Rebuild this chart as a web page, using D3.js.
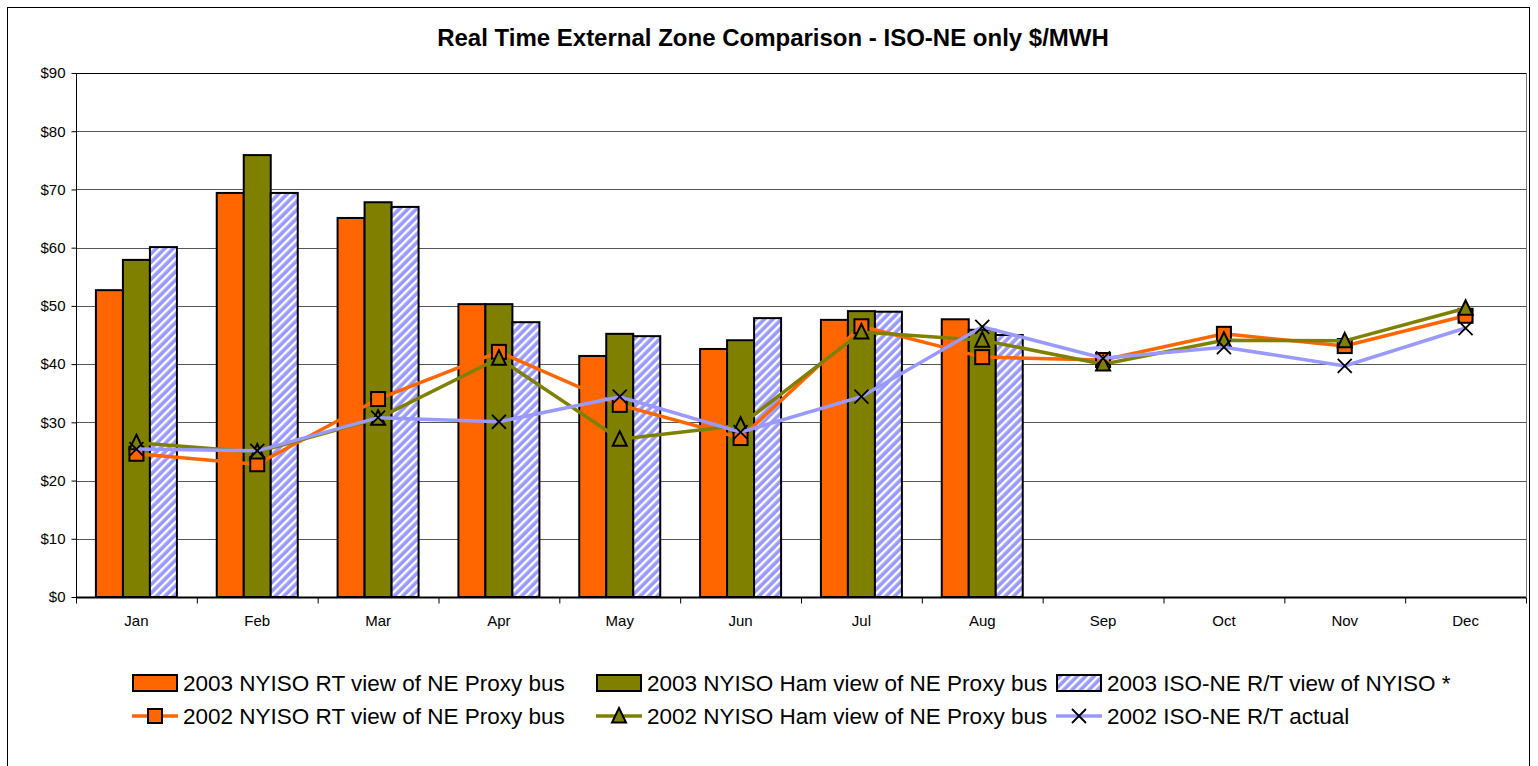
<!DOCTYPE html>
<html>
<head>
<meta charset="utf-8">
<script src="https://cdn.jsdelivr.net/npm/d3@7"></script>
<style>
  body { margin: 0; background: #fff; }
  text { font-family: "Liberation Sans", Arial, sans-serif; }
</style>
</head>
<body>
<svg id="chart" width="1538" height="766"></svg>
<script>
// months on the category axis
var months = ["Jan", "Feb", "Mar", "Apr", "May", "Jun", "Jul", "Aug", "Sep", "Oct", "Nov", "Dec"];
var yTicks = [0, 10, 20, 30, 40, 50, 60, 70, 80, 90];

// 2003 bars (only Jan-Aug)
var rt2003 = [52.7, 69.4, 65.1, 50.3, 41.4, 42.6, 47.6, 47.7];
var ham2003 = [57.9, 75.9, 67.8, 50.3, 45.2, 44.1, 49.1, 45.9];
var isone2003 = [60.1, 69.4, 67.0, 47.2, 44.8, 47.9, 49.0, 45.0];

// 2002 lines
var rt2002 = [24.6, 22.8, 34.0, 42.1, 33.0, 27.3, 46.5, 41.2, 40.7, 45.2, 43.1, 48.3];
var ham2002 = [26.5, 24.9, 30.7, 41.0, 27.1, 29.5, 45.5, 44.1, 40.0, 44.1, 44.0, 49.6];
var isone2002 = [25.4, 25.1, 30.8, 30.1, 34.4, 28.3, 34.4, 46.4, 41.0, 42.9, 39.7, 46.2];

var barNames = ["2003 NYISO RT view of NE Proxy bus", "2003 NYISO Ham view of NE Proxy bus", "2003 ISO-NE R/T view of NYISO *"];
var lineNames = ["2002 NYISO RT view of NE Proxy bus", "2002 NYISO Ham view of NE Proxy bus", "2002 ISO-NE R/T actual"];

var orange = "#ff6600", olive = "#808000", lav = "#9999ff";

var svg = d3.select("#chart");

// hatch for the ISO-NE bars
var defs = svg.append("defs");
var pat = defs.append("pattern").attr("id", "hatch")
  .attr("patternUnits", "userSpaceOnUse")
  .attr("width", 6).attr("height", 6)
  .attr("patternTransform", "rotate(45)");
pat.append("rect").attr("width", 6).attr("height", 6).attr("fill", lav);
pat.append("rect").attr("width", 2.4).attr("height", 6).attr("fill", "#fff");

// outer frame
svg.append("rect").attr("x", 7.5).attr("y", 7.5).attr("width", 1522).attr("height", 780)
  .attr("fill", "none").attr("stroke", "#000").attr("stroke-width", 1);

svg.append("text").attr("x", 773).attr("y", 46).attr("text-anchor", "middle")
  .style("font-size", "24px").style("font-weight", "bold")
  .text("Real Time External Zone Comparison - ISO-NE only $/MWH");

var pLeft = 76, pRight = 1526, pTop = 73, pBottom = 597;
var x = d3.scaleBand().domain(months).range([pLeft, pRight]);
var y = d3.scaleLinear().domain([0, 90]).range([pBottom, pTop]);

// gridlines
svg.append("g").selectAll("line").data(yTicks.slice(1)).enter().append("line")
  .attr("x1", pLeft).attr("x2", pRight)
  .attr("y1", function(d) { return Math.round(y(d)) + 0.5; })
  .attr("y2", function(d) { return Math.round(y(d)) + 0.5; })
  .attr("stroke", function(d) { return d == 90 ? "#000" : "#555"; }).attr("stroke-width", 1);
svg.append("line").attr("x1", pRight + 0.5).attr("x2", pRight + 0.5).attr("y1", pTop).attr("y2", pBottom)
  .attr("stroke", "#777");

// bars
var gw = 81, bw = gw / 3;
var barSets = [rt2003, ham2003, isone2003];
var barFills = [orange, olive, "url(#hatch)"];
barSets.forEach(function(vals, k) {
  svg.append("g").selectAll("rect").data(vals).enter().append("rect")
    .attr("x", function(d, i) { return x(months[i]) + x.bandwidth() / 2 - gw / 2 + k * bw; })
    .attr("y", function(d) { return y(d); })
    .attr("width", bw)
    .attr("height", function(d) { return pBottom - y(d); })
    .attr("fill", barFills[k]).attr("stroke", "#000").attr("stroke-width", 2);
});

// axes
var yAxis = svg.append("g").attr("transform", "translate(" + (pLeft + 0.5) + ",0)")
  .call(d3.axisLeft(y).tickValues(yTicks).tickSize(5).tickFormat(function(d) { return "$" + d; }));
yAxis.select(".domain").attr("stroke", "#000").attr("d", "M0," + pTop + "V" + pBottom);
yAxis.selectAll(".tick line").attr("stroke", "#000");
yAxis.selectAll("text").style("font-size", "15px").attr("fill", "#000").attr("x", -11);

var xAxis = svg.append("g").attr("transform", "translate(0," + (pBottom + 0.5) + ")")
  .call(d3.axisBottom(x).tickSize(0).tickPadding(18));
xAxis.select(".domain").attr("stroke", "#000").attr("stroke-width", 2).attr("d", "M" + pLeft + ",0H" + pRight);
xAxis.selectAll("text").style("font-size", "15px").attr("fill", "#000");
xAxis.append("g").selectAll("line").data(months.concat(["end"])).enter().append("line")
  .attr("x1", function(d, i) { return pLeft + i * x.step() + 0.5; })
  .attr("x2", function(d, i) { return pLeft + i * x.step() + 0.5; })
  .attr("y1", 0).attr("y2", 6).attr("stroke", "#000");

// lines
var cx = function(d, i) { return x(months[i]) + x.bandwidth() / 2; };
var lineGen = d3.line().x(cx).y(function(d) { return y(d); });
var lineSets = [rt2002, ham2002, isone2002];
var lineColors = [orange, olive, lav];
var markerTypes = ["square", "triangle", "cross"];

function drawMarker(g, type, color) {
  if (type == "square") {
    g.append("rect").attr("x", -7).attr("y", -7).attr("width", 14).attr("height", 14)
      .attr("fill", color).attr("stroke", "#000").attr("stroke-width", 2);
  } else if (type == "triangle") {
    g.append("path").attr("d", "M0,-8L7,6.5L-7,6.5Z")
      .attr("fill", color).attr("stroke", "#000").attr("stroke-width", 2);
  } else {
    g.append("path").attr("d", "M-7,-7L7,7M-7,7L7,-7")
      .attr("stroke", "#000").attr("stroke-width", 1.8).attr("fill", "none");
  }
}

lineSets.forEach(function(vals, k) {
  svg.append("path").datum(vals).attr("d", lineGen)
    .attr("fill", "none").attr("stroke", lineColors[k]).attr("stroke-width", 3.5);
  svg.append("g").selectAll("g").data(vals).enter().append("g")
    .attr("transform", function(d, i) { return "translate(" + cx(d, i) + "," + y(d) + ")"; })
    .each(function() { drawMarker(d3.select(this), markerTypes[k], lineColors[k]); });
});

// legend
var legX = [132, 596, 1056];
var legY = [683, 716];
barNames.forEach(function(name, k) {
  var g = svg.append("g").attr("transform", "translate(" + legX[k] + "," + legY[0] + ")");
  g.append("rect").attr("x", 1).attr("y", -8).attr("width", 44).attr("height", 16)
    .attr("fill", barFills[k]).attr("stroke", "#000").attr("stroke-width", 2);
  g.append("text").attr("x", 51).attr("y", 8).style("font-size", "22.5px").text(name);
});
lineNames.forEach(function(name, k) {
  var g = svg.append("g").attr("transform", "translate(" + legX[k] + "," + legY[1] + ")");
  g.append("line").attr("x1", 0).attr("x2", 46).attr("y1", 0).attr("y2", 0)
    .attr("stroke", lineColors[k]).attr("stroke-width", 3.5);
  var m = g.append("g").attr("transform", "translate(23,0)");
  drawMarker(m, markerTypes[k], lineColors[k]);
  g.append("text").attr("x", 51).attr("y", 8).style("font-size", "22.5px").text(name);
});
</script>
</body>
</html>
